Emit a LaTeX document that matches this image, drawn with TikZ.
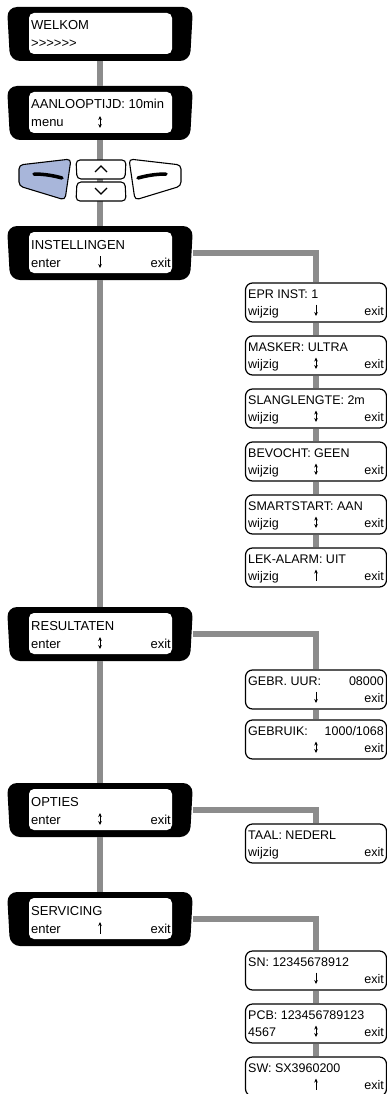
\documentclass[tikz,border=0pt]{standalone}
\usepackage{fontspec}
\setmainfont{Liberation Sans}[Ligatures=TeXOff]
\usetikzlibrary{arrows.meta}

\definecolor{wiregray}{RGB}{140,140,140}
\definecolor{keyblue}{RGB}{168,182,218}

\tikzset{
  screen/.style={minimum width=186pt, minimum height=54pt, inner sep=0pt},
  bezel/.style={fill=black, rounded corners=10pt},
  lcd/.style={fill=white, rounded corners=5pt, minimum width=143pt, minimum height=41pt, inner sep=0pt},
  menubox/.style={draw=black, line width=1.2pt, fill=white, rounded corners=7pt, minimum width=141pt, minimum height=39pt, inner sep=0pt},
  wire/.style={draw=wiregray, line width=6pt},
  bigtxt/.style={font=\fontsize{13}{15}\selectfont, inner sep=0pt},
  smalltxt/.style={font=\fontsize{12.5}{14}\selectfont, inner sep=0pt},
  keyline/.style={draw=black, line width=1.1pt, rounded corners=4pt},
  pijl/.style={line width=0.8pt},
  arrdown/.style={-{Stealth[length=4pt,width=3.6pt]}},
  arrup/.style={{Stealth[length=4pt,width=3.6pt]}-},
  arrboth/.style={{Stealth[length=4pt,width=3.6pt]}-{Stealth[length=4pt,width=3.6pt]}},
  arrnone/.style={draw=none},
}

% hoofdscherm: naam, y-midden, regel 1, links, pijl, rechts
\newcommand{\lcdscreen}[6]{%
  \node[screen] (#1) at (100,#2) {};
  \fill[bezel] (7,{#2-27}) -- (193,{#2-27}) -- (190,{#2+27}) -- (10,{#2+27}) -- cycle;
  \node[lcd] (#1-lcd) at (100.5,{#2-0.5}) {};
  \node[bigtxt, anchor=base west] (#1-top) at (31,{#2-4}) {#3};
  \node[bigtxt, anchor=base west] (#1-left) at (31,{#2+14}) {#4};
  \coordinate (#1-mid) at (100,{#2+14});
  \draw[pijl, #5] ([yshift=11pt]#1-mid) -- ([yshift=-1pt]#1-mid);
  \node[bigtxt, anchor=base east] (#1-right) at (171,{#2+14}) {#6};
}

% submenu: naam, y-midden, regel 1 links, regel 1 rechts, links, pijl, rechts
\newcommand{\subscreen}[7]{%
  \node[menubox] (#1) at (316,#2) {};
  \node[smalltxt, anchor=base west] (#1-top) at (248,{#2-4.5}) {#3};
  \node[smalltxt, anchor=base east] (#1-val) at (384,{#2-4.5}) {#4};
  \node[smalltxt, anchor=base west] (#1-left) at (248,{#2+12.5}) {#5};
  \coordinate (#1-mid) at (316,{#2+12.5});
  \draw[pijl, #6] ([yshift=10.5pt]#1-mid) -- ([yshift=-1pt]#1-mid);
  \node[smalltxt, anchor=base east] (#1-right) at (384,{#2+12.5}) {#7};
}

\begin{document}
\begin{tikzpicture}[x=1pt, y=-1pt]
  \fill[white] (0,0) rectangle (387,1094);
  \useasboundingbox (0,0) rectangle (387,1094);

  % hoofdmenu
  \lcdscreen{welkom}{34}{WELKOM}{>>>>>>}{arrnone}{}
  \lcdscreen{aanloop}{113}{AANLOOPTIJD: 10min}{menu}{arrboth}{}
  \lcdscreen{inst}{253}{INSTELLINGEN}{enter}{arrdown}{exit}
  \lcdscreen{result}{634}{RESULTATEN}{enter}{arrboth}{exit}
  \lcdscreen{opties}{810}{OPTIES}{enter}{arrboth}{exit}
  \lcdscreen{service}{919}{SERVICING}{enter}{arrup}{exit}

  % instellingen
  \subscreen{epr}{302.5}{EPR INST: 1}{}{wijzig}{arrdown}{exit}
  \subscreen{masker}{355.5}{MASKER: ULTRA}{}{wijzig}{arrboth}{exit}
  \subscreen{slang}{408.5}{SLANGLENGTE: 2m}{}{wijzig}{arrboth}{exit}
  \subscreen{bevocht}{461.5}{BEVOCHT: GEEN}{}{wijzig}{arrboth}{exit}
  \subscreen{smart}{514.5}{SMARTSTART: AAN}{}{wijzig}{arrboth}{exit}
  \subscreen{lek}{567.5}{LEK-ALARM: UIT}{}{wijzig}{arrup}{exit}

  % resultaten
  \subscreen{uur}{689.5}{GEBR. UUR:}{08000}{}{arrdown}{exit}
  \subscreen{gebruik}{739.5}{GEBRUIK:}{1000/1068}{}{arrboth}{exit}

  % opties
  \subscreen{taal}{843.5}{TAAL: NEDERL}{}{wijzig}{arrnone}{exit}

  % servicing
  \subscreen{sn}{970.5}{SN: 12345678912}{}{}{arrdown}{exit}
  \subscreen{pcb}{1023.5}{PCB: 123456789123}{}{4567}{arrboth}{exit}
  \subscreen{sw}{1076.5}{SW: SX3960200}{}{}{arrup}{exit}

  % verbindingen
  \draw[wire] (welkom.south) -- (aanloop.north);
  \draw[wire] (aanloop.south) -- (inst.north);
  \draw[wire] (inst.south) -- (result.north);
  \draw[wire] (result.south) -- (opties.north);
  \draw[wire] (opties.south) -- (service.north);
  \draw[wire] (inst.east) -| (epr.north);
  \draw[wire] (epr.south) -- (masker.north);
  \draw[wire] (masker.south) -- (slang.north);
  \draw[wire] (slang.south) -- (bevocht.north);
  \draw[wire] (bevocht.south) -- (smart.north);
  \draw[wire] (smart.south) -- (lek.north);
  \draw[wire] (result.east) -| (uur.north);
  \draw[wire] (uur.south) -- (gebruik.north);
  \draw[wire] (opties.east) -| (taal.north);
  \draw[wire] (service.east) -| (sn.north);
  \draw[wire] (sn.south) -- (pcb.north);
  \draw[wire] (pcb.south) -- (sw.north);

  % toetsen
  \filldraw[keyline, fill=keyblue] (19,186) -- (19,165) -- (71,159) -- (65,200) -- cycle;
  \draw[line width=3.5pt, line cap=round] (34,174) .. controls (45,174) and (55,176) .. (62,178);
  \begin{scope}[xshift=200pt, xscale=-1]
    \filldraw[keyline, fill=white] (19,186) -- (19,165) -- (71,159) -- (65,200) -- cycle;
    \draw[line width=3.5pt, line cap=round] (34,174) .. controls (45,174) and (55,176) .. (62,178);
  \end{scope}
  \filldraw[keyline, fill=white] (77,179) -- (76,160) -- (126,160) -- (125,179) -- cycle;
  \filldraw[keyline, fill=white] (77,182) -- (125,182) -- (126,201) -- (76,201) -- cycle;
  \draw[line width=1.2pt] (95,172) -- (101,166) -- (107,172);
  \draw[line width=1.2pt] (95,188) -- (101,194) -- (107,188);
\end{tikzpicture}
\end{document}
